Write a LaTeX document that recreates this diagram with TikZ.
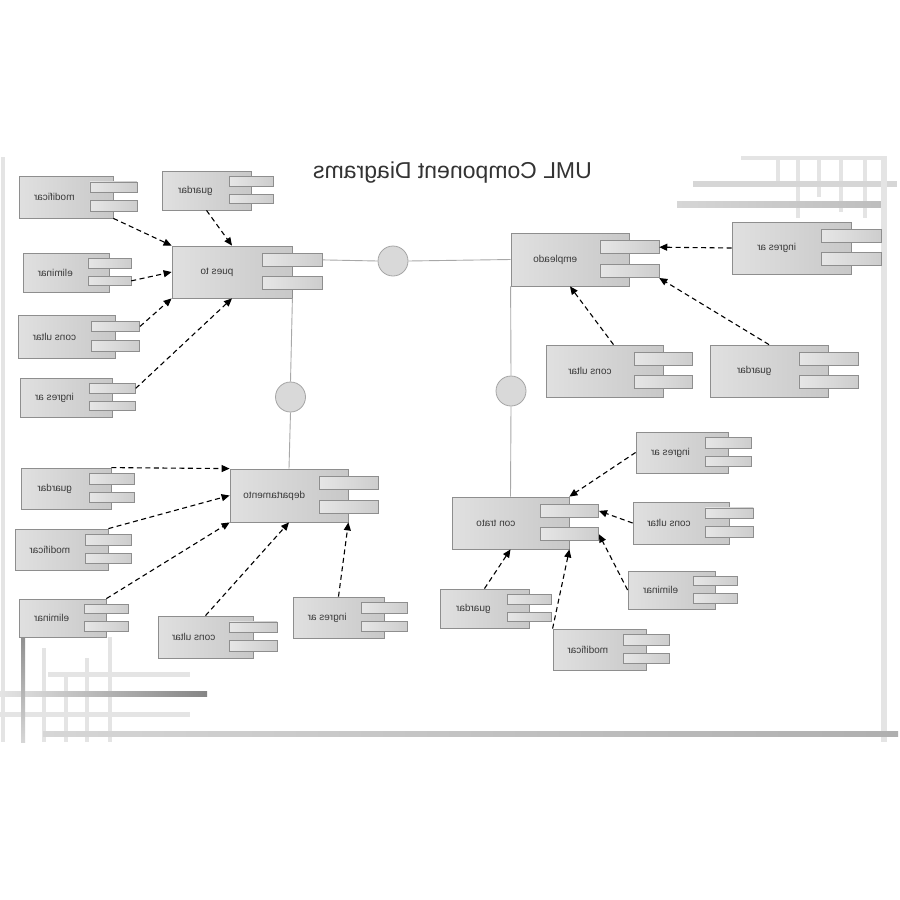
\documentclass[tikz,border=0pt]{standalone}
\usepackage{fontspec}
\setmainfont{Liberation Sans}
\usepackage{graphicx}
\usetikzlibrary{arrows.meta,calc}

\definecolor{boxline}{HTML}{8E8E8E}
\definecolor{boxlight}{HTML}{E0E0E0}
\definecolor{boxdark}{HTML}{C8C8C8}
\definecolor{tablight}{HTML}{E6E6E6}
\definecolor{tabdark}{HTML}{CDCDCD}
\definecolor{labeltext}{HTML}{3A3A3A}
\definecolor{wiregray}{HTML}{A8A8A8}
\definecolor{ifacefill}{HTML}{D9D9D9}
\definecolor{ifaceline}{HTML}{A5A5A5}
\definecolor{barpale}{HTML}{E4E4E4}
\definecolor{barlight}{HTML}{D6D6D6}
\definecolor{barmid}{HTML}{BDBDBD}
\definecolor{bardark}{HTML}{858585}
\definecolor{titlegray}{HTML}{333333}

\tikzset{
  compbox/.style={rectangle, draw=boxline, line width=0.8pt, left color=boxlight, right color=boxdark, inner sep=0pt},
  tabbox/.style={rectangle, draw=boxline, line width=0.7pt, left color=tablight, right color=tabdark, inner sep=0pt},
  complabel/.style={font=\fontsize{10}{12}\selectfont, text=labeltext, inner sep=0pt},
  dep/.style={draw=black, line width=1.1pt, dash pattern=on 5pt off 3.5pt, -{Triangle[length=8pt,width=7pt]}},
  wire/.style={draw=wiregray, line width=0.9pt},
  iface/.style={circle, draw=ifaceline, line width=0.8pt, fill=ifacefill, minimum size=30pt, inner sep=0pt},
}

% component: name, centre x, centre y, width, height, label
\newcommand{\umlcomp}[6]{%
  \node[compbox, minimum width=#4pt, minimum height=#5pt] (#1) at (#2,#3) {};
  \node[tabbox, minimum width=#4pt/2, minimum height=#5pt/4] (#1-a) at ($(#1.north east)+(0,0.275*#5)$) {};
  \node[tabbox, minimum width=#4pt/2, minimum height=#5pt/4] (#1-b) at ($(#1.north east)+(0,0.725*#5)$) {};
  \node[complabel] (#1-l) at ($(#1.center)+(-#4/8,0)$) {\reflectbox{#6}};
}

\begin{document}
\begin{tikzpicture}[x=1pt, y=-1pt]
\fill[white] (0,0) rectangle (900,900);
\useasboundingbox (0,0) rectangle (900,900);

% frame bars, top right
\fill[barpale] (741,156) rectangle (887,160);
\fill[barpale] (776,158) rectangle (780,182);
\fill[barpale] (796,158) rectangle (800,218);
\fill[barpale] (817,158) rectangle (821,197);
\fill[barpale] (839,158) rectangle (843,212);
\fill[barpale] (863,158) rectangle (867,218);
\fill[barlight] (693,181) rectangle (897,187);
\fill[left color=barlight, right color=barmid] (677,201) rectangle (883,207);
\fill[barpale] (881,158) rectangle (887,742);
% frame bars, left and bottom
\fill[barpale] (1,157) rectangle (5,742);
\fill[barpale] (42,648) rectangle (46,742);
\fill[barpale] (64,673) rectangle (68,742);
\fill[barpale] (85,658) rectangle (89,742);
\fill[barpale] (108,637) rectangle (112,742);
\fill[barpale] (48,672) rectangle (190,677);
\fill[barpale] (0,712) rectangle (190,717);
\fill[left color=barpale, right color=bardark] (0,691) rectangle (207,696);
\fill[top color=bardark!80!barmid, bottom color=barlight] (21,638) rectangle (25,742);
\fill[left color=barlight, right color=barmid!75!bardark] (43,731) rectangle (898,736);

% title
\node[font=\fontsize{23}{26}\selectfont, text=titlegray] (title) at (452.5,173) {\reflectbox{UML Component Diagrams}};

% components
\umlcomp{puesto}{232}{272}{120}{52}{pues to}
\umlcomp{pmod}{66}{197}{94}{42}{modificar}
\umlcomp{pgua}{206.5}{190.5}{89}{39}{guardar}
\umlcomp{peli}{66}{272.5}{86}{39}{eliminar}
\umlcomp{pcon}{66.5}{336.5}{97}{43}{cons ultar}
\umlcomp{ping}{66}{397.5}{92}{39}{ingres ar}

\umlcomp{depto}{289}{495.5}{118}{53}{departamento}
\umlcomp{dgua}{66}{488.5}{90}{41}{guardar}
\umlcomp{dmod}{61.5}{549.5}{93}{41}{modificar}
\umlcomp{deli}{62.5}{618}{87}{38}{eliminar}
\umlcomp{dcon}{205.5}{637}{95}{42}{cons ultar}
\umlcomp{ding}{338.5}{617.5}{91}{41}{ingres ar}

\umlcomp{empleado}{570}{259.5}{118}{53}{empleado}
\umlcomp{eing}{791.5}{248}{119}{52}{ingres ar}
\umlcomp{econ}{604.5}{371}{117}{52}{cons ultar}
\umlcomp{egua}{769}{371}{118}{52}{guardar}

\umlcomp{contrato}{510.5}{523}{117}{52}{con trato}
\umlcomp{cing}{682}{452.5}{92}{41}{ingres ar}
\umlcomp{ccon}{681}{523}{96}{42}{cons ultar}
\umlcomp{celi}{671.5}{590}{87}{38}{eliminar}
\umlcomp{cgua}{484.5}{608.5}{89}{39}{guardar}
\umlcomp{cmod}{599.5}{649.5}{93}{41}{modificar}

% interfaces and their wires
\node[iface] (i1) at (393,261) {};
\node[iface] (i2) at (290.5,397) {};
\node[iface] (i3) at (511,391) {};
\draw[wire] (puesto-a.east) -- (i1.west);
\draw[wire] (i1.east) -- (empleado.west);
\draw[wire] (puesto.south east) -- (i2.north);
\draw[wire] (i2.south) -- (depto.north);
\draw[wire] (empleado.south west) -- (i3.north);
\draw[wire] (i3.south) -- (contrato.north);

% dependencies
\draw[dep] (pmod.south east) -- (puesto.north west);
\draw[dep] (pgua.south) -- (puesto.north);
\draw[dep] (peli-b.east) -- (puesto.west);
\draw[dep] (pcon-a.east) -- (puesto.south west);
\draw[dep] (ping-a.east) -- (puesto.south);

\draw[dep] (dgua.north east) -- (depto.north west);
\draw[dep] (dmod.north east) -- (depto.west);
\draw[dep] (deli.north east) -- (depto.south west);
\draw[dep] (dcon.north) -- (depto.south);
\draw[dep] (ding.north) -- (depto.south east);

\draw[dep] (eing.west) -- (empleado-a.east);
\draw[dep] (egua.north) -- (empleado-b.south east);
\draw[dep] ([xshift=9pt]econ.north) -- (empleado.south);

\draw[dep] (cing.west) -- (contrato.north east);
\draw[dep] (ccon.west) -- (contrato-a.east);
\draw[dep] (celi.west) -- (contrato-b.east);
\draw[dep] (cgua.north) -- (contrato.south);
\draw[dep] (cmod.north west) -- (contrato.south east);
\end{tikzpicture}
\end{document}
